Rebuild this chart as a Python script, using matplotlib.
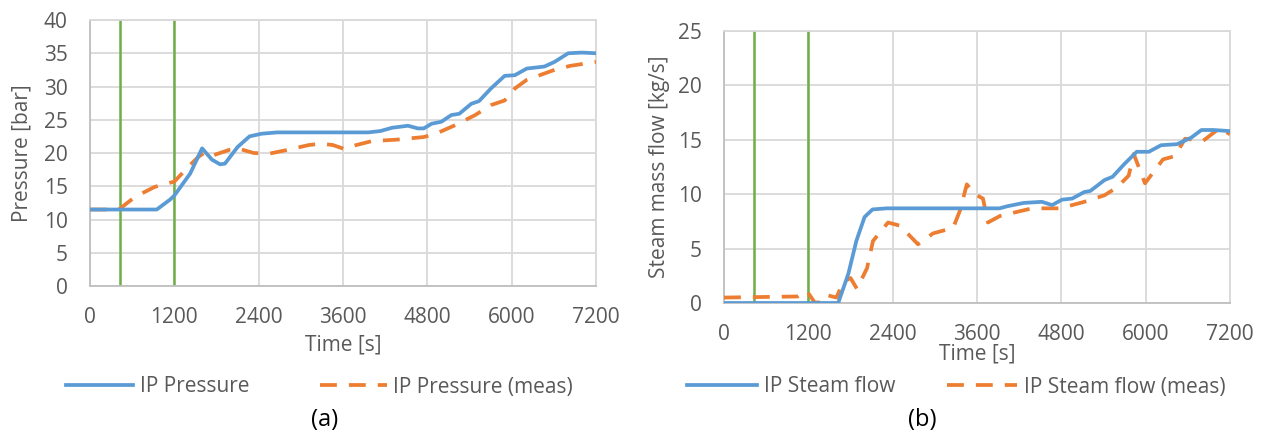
import matplotlib
matplotlib.use("Agg")
import matplotlib.pyplot as plt

plt.rcParams['font.family'] = ['Open Sans', 'DejaVu Sans']

BLUE = "#5B9BD5"
ORANGE = "#ED7D31"
GREEN = "#70AD47"
GRID = "#D9D9D9"
TXT = "#595959"
W, H = 1261, 436

# (a) IP pressure, simulated and measured
p_sim_t = [0, 950, 1140, 1200, 1425, 1595, 1735, 1850, 1920, 2100, 2270, 2440, 2665,
           3230, 3960, 4130, 4300, 4525, 4665, 4750, 4860, 5000, 5140, 5255, 5425,
           5535, 5705, 5900, 6045, 6215, 6465, 6610, 6805, 7000, 7200]
p_sim = [11.5, 11.5, 13.0, 13.6, 16.9, 20.7, 19.0, 18.3, 18.4, 20.9, 22.5, 22.9, 23.1,
         23.1, 23.1, 23.3, 23.8, 24.1, 23.7, 23.7, 24.4, 24.7, 25.7, 25.9, 27.4,
         27.8, 29.7, 31.6, 31.7, 32.7, 33.0, 33.7, 35.0, 35.1, 35.0]

p_meas_t = [0, 410, 640, 920, 1200, 1425, 1540, 1650, 1765, 1990, 2100, 2330, 2550,
            2780, 3115, 3285, 3455, 3620, 3790, 4015, 4355, 4750, 4920, 5200, 5480,
            5705, 5900, 6045, 6215, 6610, 6830, 7200]
p_meas = [11.5, 11.5, 13.4, 14.9, 15.7, 18.2, 19.4, 20.2, 19.7, 20.5, 20.7, 20.0, 19.9,
          20.4, 21.2, 21.4, 21.2, 20.6, 21.2, 21.8, 22.0, 22.4, 22.9, 24.2, 25.7,
          27.2, 27.9, 29.7, 31.0, 32.5, 33.1, 33.7]

# (b) IP steam flow, simulated and measured
f_sim_t = [0, 1625, 1770, 1883, 2000, 2113, 2314, 3920, 4036, 4266, 4524, 4668, 4811,
           4955, 5127, 5213, 5414, 5529, 5701, 5873, 6046, 6218, 6448, 6649, 6793,
           6965, 7200]
f_sim = [0, 0, 2.7, 5.7, 7.9, 8.6, 8.7, 8.7, 8.9, 9.2, 9.3, 9.0, 9.5,
         9.6, 10.2, 10.3, 11.3, 11.6, 12.8, 13.9, 13.9, 14.5, 14.6, 15.2, 15.9,
         15.9, 15.8]

f_meas_t = [0, 1050, 1180, 1290, 1400, 1480, 1600, 1693, 1800, 1892, 2035, 2120, 2334,
            2505, 2760, 2975, 3260, 3358, 3455, 3570, 3685, 3756, 3927, 4381,
            4783, 5127, 5414, 5586, 5758, 5830, 5990, 6247, 6417, 6560, 6816, 7058,
            7200]
f_meas = [0.5, 0.6, 1.1, 0.05, 0.05, 0.7, 0.5, 1.9, 2.3, 1.3, 3.2, 5.7, 7.4,
          7.1, 5.4, 6.4, 6.9, 8.5, 10.9, 10.0, 9.6, 7.4, 8.0, 8.7,
          8.7, 9.3, 9.9, 10.6, 11.7, 13.7, 11.0, 13.2, 13.5, 15.1, 14.9, 16.1,
          15.5]

# valve events marked on both panels
events = [420, 1200]
xticks = [0, 1200, 2400, 3600, 4800, 6000, 7200]

fig = plt.figure(figsize=(W / 100, H / 100), dpi=100)
ax1 = fig.add_axes([90 / W, 1 - 286 / H, 506 / W, 266 / H])
ax2 = fig.add_axes([724 / W, 1 - 303 / H, 506 / W, 272 / H])


def style(ax, ymax, ylabel, xlab_y, ylab_x):
    ax.set_xlim(0, 7200)
    ax.set_ylim(0, ymax)
    ax.set_xticks(xticks)
    ax.set_yticks(range(0, ymax + 1, 5))
    ax.grid(True, color=GRID, lw=1.3)
    ax.set_axisbelow(True)
    for s in ax.spines.values():
        s.set_color(GRID)
        s.set_linewidth(1.3)
    ax.spines['bottom'].set_color("#BFBFBF")
    ax.spines['left'].set_color("#BFBFBF")
    ax.tick_params(length=0, labelsize=15, labelcolor=TXT)
    ax.tick_params(axis='x', pad=15)
    ax.tick_params(axis='y', pad=16)
    ax.set_xlabel("Time [s]", fontsize=15, color=TXT, va='center')
    ax.set_ylabel(ylabel, fontsize=15, color=TXT, va='center')
    ax.xaxis.set_label_coords(0.5, xlab_y)
    ax.yaxis.set_label_coords(ylab_x, 0.5)
    for ev in events:
        ax.axvline(ev, color=GREEN, lw=1.8, zorder=2)


style(ax1, 40, "Pressure [bar]", (286 - 345) / 266, (22 - 90) / 506)
style(ax2, 25, "Steam mass flow [kg/s]", (303 - 354) / 272, (659 - 724) / 506)

dash = (0, (4.5, 3.2))
l1, = ax1.plot(p_sim_t, p_sim, color=BLUE, lw=2.7, zorder=4, label="IP Pressure")
l2, = ax1.plot(p_meas_t, p_meas, color=ORANGE, lw=2.7, ls=dash, zorder=3,
               label="IP Pressure (meas)")
l3, = ax2.plot(f_sim_t, f_sim, color=BLUE, lw=2.7, zorder=4, label="IP Steam flow")
l4, = ax2.plot(f_meas_t, f_meas, color=ORANGE, lw=2.7, ls=dash, zorder=3,
               label="IP Steam flow (meas)")

leg_kw = dict(ncol=2, frameon=False, fontsize=15, handletextpad=0.33, borderpad=0,
              borderaxespad=0, labelcolor=TXT, loc='center left',
              bbox_transform=fig.transFigure)
ax1.legend(handles=[l1, l2], bbox_to_anchor=(66 / W, 1 - 387 / H),
           handlelength=3.2, columnspacing=3.4, **leg_kw)
ax2.legend(handles=[l3, l4], bbox_to_anchor=(687 / W, 1 - 387 / H),
           handlelength=3.35, columnspacing=2.5, **leg_kw)

fig.text(325 / W, 1 - 420 / H, "(a)", fontsize=17, ha='center', va='center')
fig.text(922 / W, 1 - 420 / H, "(b)", fontsize=17, ha='center', va='center')

fig.savefig("out.png", dpi=100)
